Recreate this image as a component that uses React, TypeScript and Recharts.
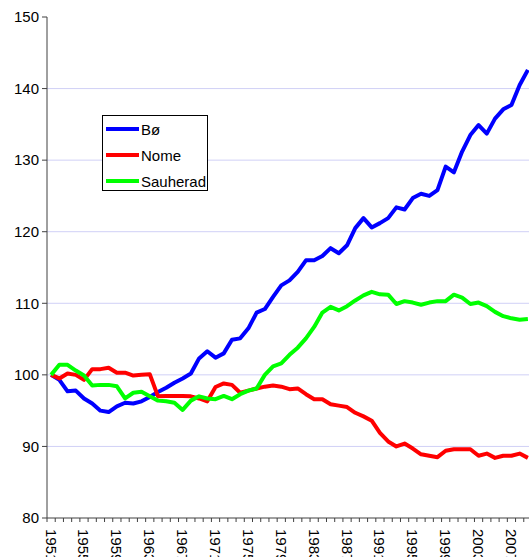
import React from "react";
import { LineChart, Line, XAxis, YAxis, CartesianGrid, Legend } from "recharts";

const years = [
  1951, 1952, 1953, 1954, 1955, 1956, 1957, 1958, 1959, 1960,
  1961, 1962, 1963, 1964, 1965, 1966, 1967, 1968, 1969, 1970,
  1971, 1972, 1973, 1974, 1975, 1976, 1977, 1978, 1979, 1980,
  1981, 1982, 1983, 1984, 1985, 1986, 1987, 1988, 1989, 1990,
  1991, 1992, 1993, 1994, 1995, 1996, 1997, 1998, 1999, 2000,
  2001, 2002, 2003, 2004, 2005, 2006, 2007, 2008, 2009,
];

const bo = [
  100, 99.3, 97.7, 97.8, 96.7, 96.0, 95.0, 94.8, 95.6, 96.1,
  96.0, 96.3, 96.9, 97.6, 98.2, 98.9, 99.5, 100.2, 102.3, 103.3,
  102.4, 103.0, 104.9, 105.1, 106.5, 108.7, 109.2, 110.9, 112.5, 113.2,
  114.4, 116.0, 116.0, 116.6, 117.7, 117.0, 118.1, 120.5, 121.9, 120.6,
  121.2, 121.9, 123.4, 123.1, 124.7, 125.3, 125.0, 125.8, 129.1, 128.3,
  131.2, 133.5, 134.9, 133.7, 135.8, 137.1, 137.7, 140.5, 142.6,
];

const nome = [
  100, 99.5, 100.2, 100.0, 99.3, 100.8, 100.8, 101.0, 100.3, 100.3,
  99.9, 100.0, 100.1, 97.0, 97.05, 97.05, 97.05, 97.0, 96.7, 96.3,
  98.3, 98.8, 98.6, 97.5, 97.8, 98.1, 98.35, 98.5, 98.35, 98.0,
  98.1, 97.3, 96.6, 96.6, 95.9, 95.7, 95.5, 94.7, 94.2, 93.6,
  91.9, 90.7, 90.0, 90.4, 89.7, 88.9, 88.7, 88.5, 89.4, 89.6,
  89.6, 89.6, 88.7, 89.0, 88.4, 88.7, 88.7, 89.0, 88.4,
];

const sauherad = [
  100, 101.4, 101.4, 100.6, 99.9, 98.5, 98.6, 98.6, 98.4, 96.7,
  97.5, 97.65, 97.0, 96.4, 96.3, 96.1, 95.1, 96.4, 97.0, 96.7,
  96.6, 97.05, 96.6, 97.3, 97.8, 98.1, 100.0, 101.2, 101.6, 102.8,
  103.8, 105.1, 106.7, 108.7, 109.5, 109.0, 109.6, 110.4, 111.1, 111.6,
  111.25, 111.2, 109.9, 110.3, 110.1, 109.8, 110.1, 110.3, 110.3, 111.2,
  110.8, 109.9, 110.1, 109.6, 108.8, 108.2, 107.9, 107.7, 107.8,
];

const yTicks = [80, 90, 100, 110, 120, 130, 140, 150];
const gridValues = [90, 100, 110, 120, 130, 140];
const labelEvery = 4;

const seriesNames = ["Bø", "Nome", "Sauherad"];
const seriesColors = ["#0000ff", "#ff0000", "#00ff00"];

const data = years.map((y, i) => ({
  year: y,
  "Bø": bo[i],
  Nome: nome[i],
  Sauherad: sauherad[i],
}));

const FONT = "'Liberation Sans', Arial, sans-serif";
const CAT_W = 485 / 59;

const XTick = (props: any) => {
  const { x, y, payload } = props;
  const tx = x - CAT_W / 2;
  const showLabel = (payload.value - years[0]) % labelEvery === 0;
  const ly = y + 11;
  return (
    <g>
      <line x1={tx} y1={y} x2={tx} y2={y + 4} stroke="#404040" strokeWidth={1} />
      {showLabel ? (
        <text
          x={x}
          y={ly}
          transform={`rotate(90, ${x}, ${ly})`}
          textAnchor="start"
          dominantBaseline="central"
          fontSize={15}
          fontFamily={FONT}
          fill="#000"
        >
          {payload.value}
        </text>
      ) : null}
    </g>
  );
};

const LegendBox = () => (
  <div
    style={{
      position: "absolute",
      left: 102,
      top: 115,
      width: 106,
      height: 76,
      border: "1px solid #000",
      background: "#fff",
      fontFamily: FONT,
      fontSize: 15,
      boxSizing: "border-box",
    }}
  >
    {seriesNames.map((n, i) => (
      <div
        key={n}
        style={{
          position: "absolute",
          left: 3,
          top: 5 + i * 26 - 1,
          height: 18,
          display: "flex",
          alignItems: "center",
          whiteSpace: "nowrap",
        }}
      >
        <span
          style={{
            display: "inline-block",
            width: 33,
            height: 4,
            background: seriesColors[i],
            marginRight: 2,
          }}
        />
        <span>{n}</span>
      </div>
    ))}
  </div>
);

export default function App() {
  return (
    <div
      style={{
        position: "absolute",
        left: 0,
        top: 0,
        width: 529,
        height: 557,
        overflow: "hidden",
        background: "#fff",
      }}
    >
      <LineChart
        width={532}
        height={580}
        data={data}
        margin={{ top: 17, right: 0, bottom: 0, left: 0 }}
      >
        <CartesianGrid
          vertical={false}
          stroke="#d0d0f6"
          horizontalValues={gridValues}
        />
        <XAxis
          dataKey="year"
          type="number"
          domain={[years[0] - 0.5, years[years.length - 1] + 0.5]}
          ticks={years}
          interval={0}
          height={62}
          tickSize={0}
          tickMargin={0}
          tickLine={false}
          axisLine={{ stroke: "#404040", strokeWidth: 1 }}
          tick={<XTick />}
          allowDataOverflow
        />
        <YAxis
          type="number"
          domain={[80, 150]}
          ticks={yTicks}
          width={47}
          tickSize={5}
          tickMargin={3}
          axisLine={{ stroke: "#404040", strokeWidth: 1 }}
          tickLine={{ stroke: "#404040" }}
          tick={{ fontSize: 15, fontFamily: FONT, fill: "#000" }}
          interval={0}
        />
        {seriesNames.map((n, i) => (
          <Line
            key={n}
            type="linear"
            dataKey={n}
            stroke={seriesColors[i]}
            strokeWidth={4}
            dot={false}
            activeDot={false}
            strokeLinejoin="round"
            isAnimationActive={false}
          />
        ))}
        <Legend content={() => null} />
      </LineChart>
      <LegendBox />
    </div>
  );
}
